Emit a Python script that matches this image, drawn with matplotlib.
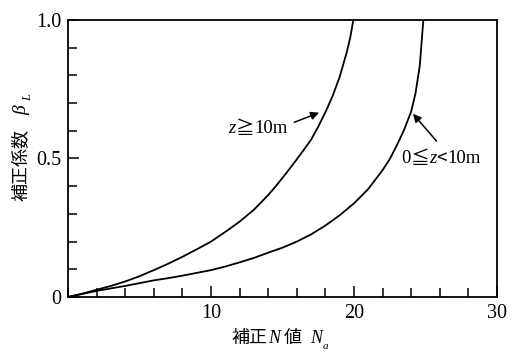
import matplotlib
matplotlib.use("Agg")
import matplotlib.pyplot as plt
from matplotlib.ticker import MultipleLocator, FixedLocator

# z >= 10 m
na_deep = [0, 1, 2, 3, 4, 5, 6, 7, 8, 9, 10, 11, 12, 13, 14, 14.5, 15, 15.5, 16, 16.5,
           17, 17.5, 18, 18.5, 19, 19.5, 19.75, 19.95]
beta_deep = [0, 0.012, 0.026, 0.04, 0.056, 0.075, 0.097, 0.12, 0.145, 0.172, 0.20, 0.235,
             0.272, 0.315, 0.368, 0.398, 0.43, 0.463, 0.497, 0.532, 0.568, 0.615, 0.667,
             0.725, 0.795, 0.885, 0.94, 1.0]

# 0 <= z < 10 m
na_shallow = [0, 1, 2, 3, 4, 5, 6, 7, 8, 9, 10, 11, 12, 13, 14, 15, 16, 17, 18, 19, 20,
              21, 22, 22.5, 23, 23.5, 24, 24.3, 24.6, 24.85]
beta_shallow = [0, 0.011, 0.022, 0.031, 0.04, 0.05, 0.06, 0.068, 0.077, 0.087, 0.097,
                0.11, 0.125, 0.141, 0.16, 0.178, 0.20, 0.226, 0.258, 0.295, 0.338, 0.39,
                0.458, 0.498, 0.548, 0.603, 0.67, 0.735, 0.835, 1.0]

serif = ["Liberation Serif", "Noto Sans CJK JP"]
cjk = ["Noto Sans CJK JP", "DejaVu Sans"]

fig = plt.figure(figsize=(5.13, 3.62), dpi=100)
ax = fig.add_axes([0.1326, 0.1796, 0.8362, 0.7652])

ax.plot(na_deep, beta_deep, color="black", lw=1.3)
ax.plot(na_shallow, beta_shallow, color="black", lw=1.3)

ax.set_xlim(0, 30)
ax.set_ylim(0, 1.0)
ax.xaxis.set_major_locator(FixedLocator([10, 20, 30]))
ax.xaxis.set_minor_locator(MultipleLocator(2))
ax.yaxis.set_major_locator(FixedLocator([0, 0.5, 1.0]))
ax.yaxis.set_minor_locator(MultipleLocator(0.1))
ax.set_xticklabels(["10", "20", "30"])
ax.set_yticklabels(["0", "0.5", "1.0"])
ax.tick_params(which="both", direction="in", top=False, right=False, width=1.1)
ax.tick_params(which="major", length=8, labelsize=14.5, pad=5)
ax.tick_params(which="minor", length=6.5)
for lab in ax.get_xticklabels() + ax.get_yticklabels():
    lab.set_family(serif)
for s in ax.spines.values():
    s.set_linewidth(1.3)


def chain(parts, x, y, coords, fs, **kw):
    # place text pieces one after another, left to right
    prev = None
    for txt, style in parts:
        fam = cjk if style == "cjk" else serif
        st = "italic" if style in ("it", "sub") else "normal"
        size = fs * 0.62 if style == "sub" else fs
        if prev is None:
            prev = ax.annotate(txt, xy=(x, y), xycoords=coords, fontsize=size, family=fam,
                               style=st, ha="left", va="center", **kw)
        else:
            yoff = 0.25 if style == "sub" else 0.5
            prev = ax.annotate(txt, xy=(1, yoff), xycoords=prev, fontsize=size, family=fam,
                               style=st, ha="left", va="center" if style != "sub" else "top",
                               **kw)
    return prev


# annotations
ax.annotate("", xy=(17.74, 0.669), xytext=(15.64, 0.627),
            arrowprops=dict(arrowstyle="-|>", color="black", lw=1.1, mutation_scale=12))
chain([("z", "it"), ("≧", "cjk"), ("10m", "rm")], 11.2, 0.61, "data", 13.5)

ax.annotate("", xy=(24.0, 0.669), xytext=(25.9, 0.555),
            arrowprops=dict(arrowstyle="-|>", color="black", lw=1.1, mutation_scale=12))
chain([("0", "rm"), ("≦", "cjk"), ("z", "it"), ("<", "cjk"), ("10m", "rm")],
      23.3, 0.50, "data", 13.5)

# axis labels
fig.text(0.043, 0.545, "補正係数", rotation=90, fontsize=13, family=cjk,
         ha="center", va="center")
fig.text(0.043, 0.695, "β", rotation=90, fontsize=14, style="italic", family=serif,
         ha="center", va="center")
fig.text(0.054, 0.732, "L", rotation=90, fontsize=9, style="italic", family=serif,
         ha="center", va="center")

chain([("補正", "cjk"), ("N", "it"), (" 値", "cjk"), ("  N", "it"), ("a", "sub")],
      0.452, 0.066, "figure fraction", 13, annotation_clip=False)

fig.savefig("out.png", dpi=100)
